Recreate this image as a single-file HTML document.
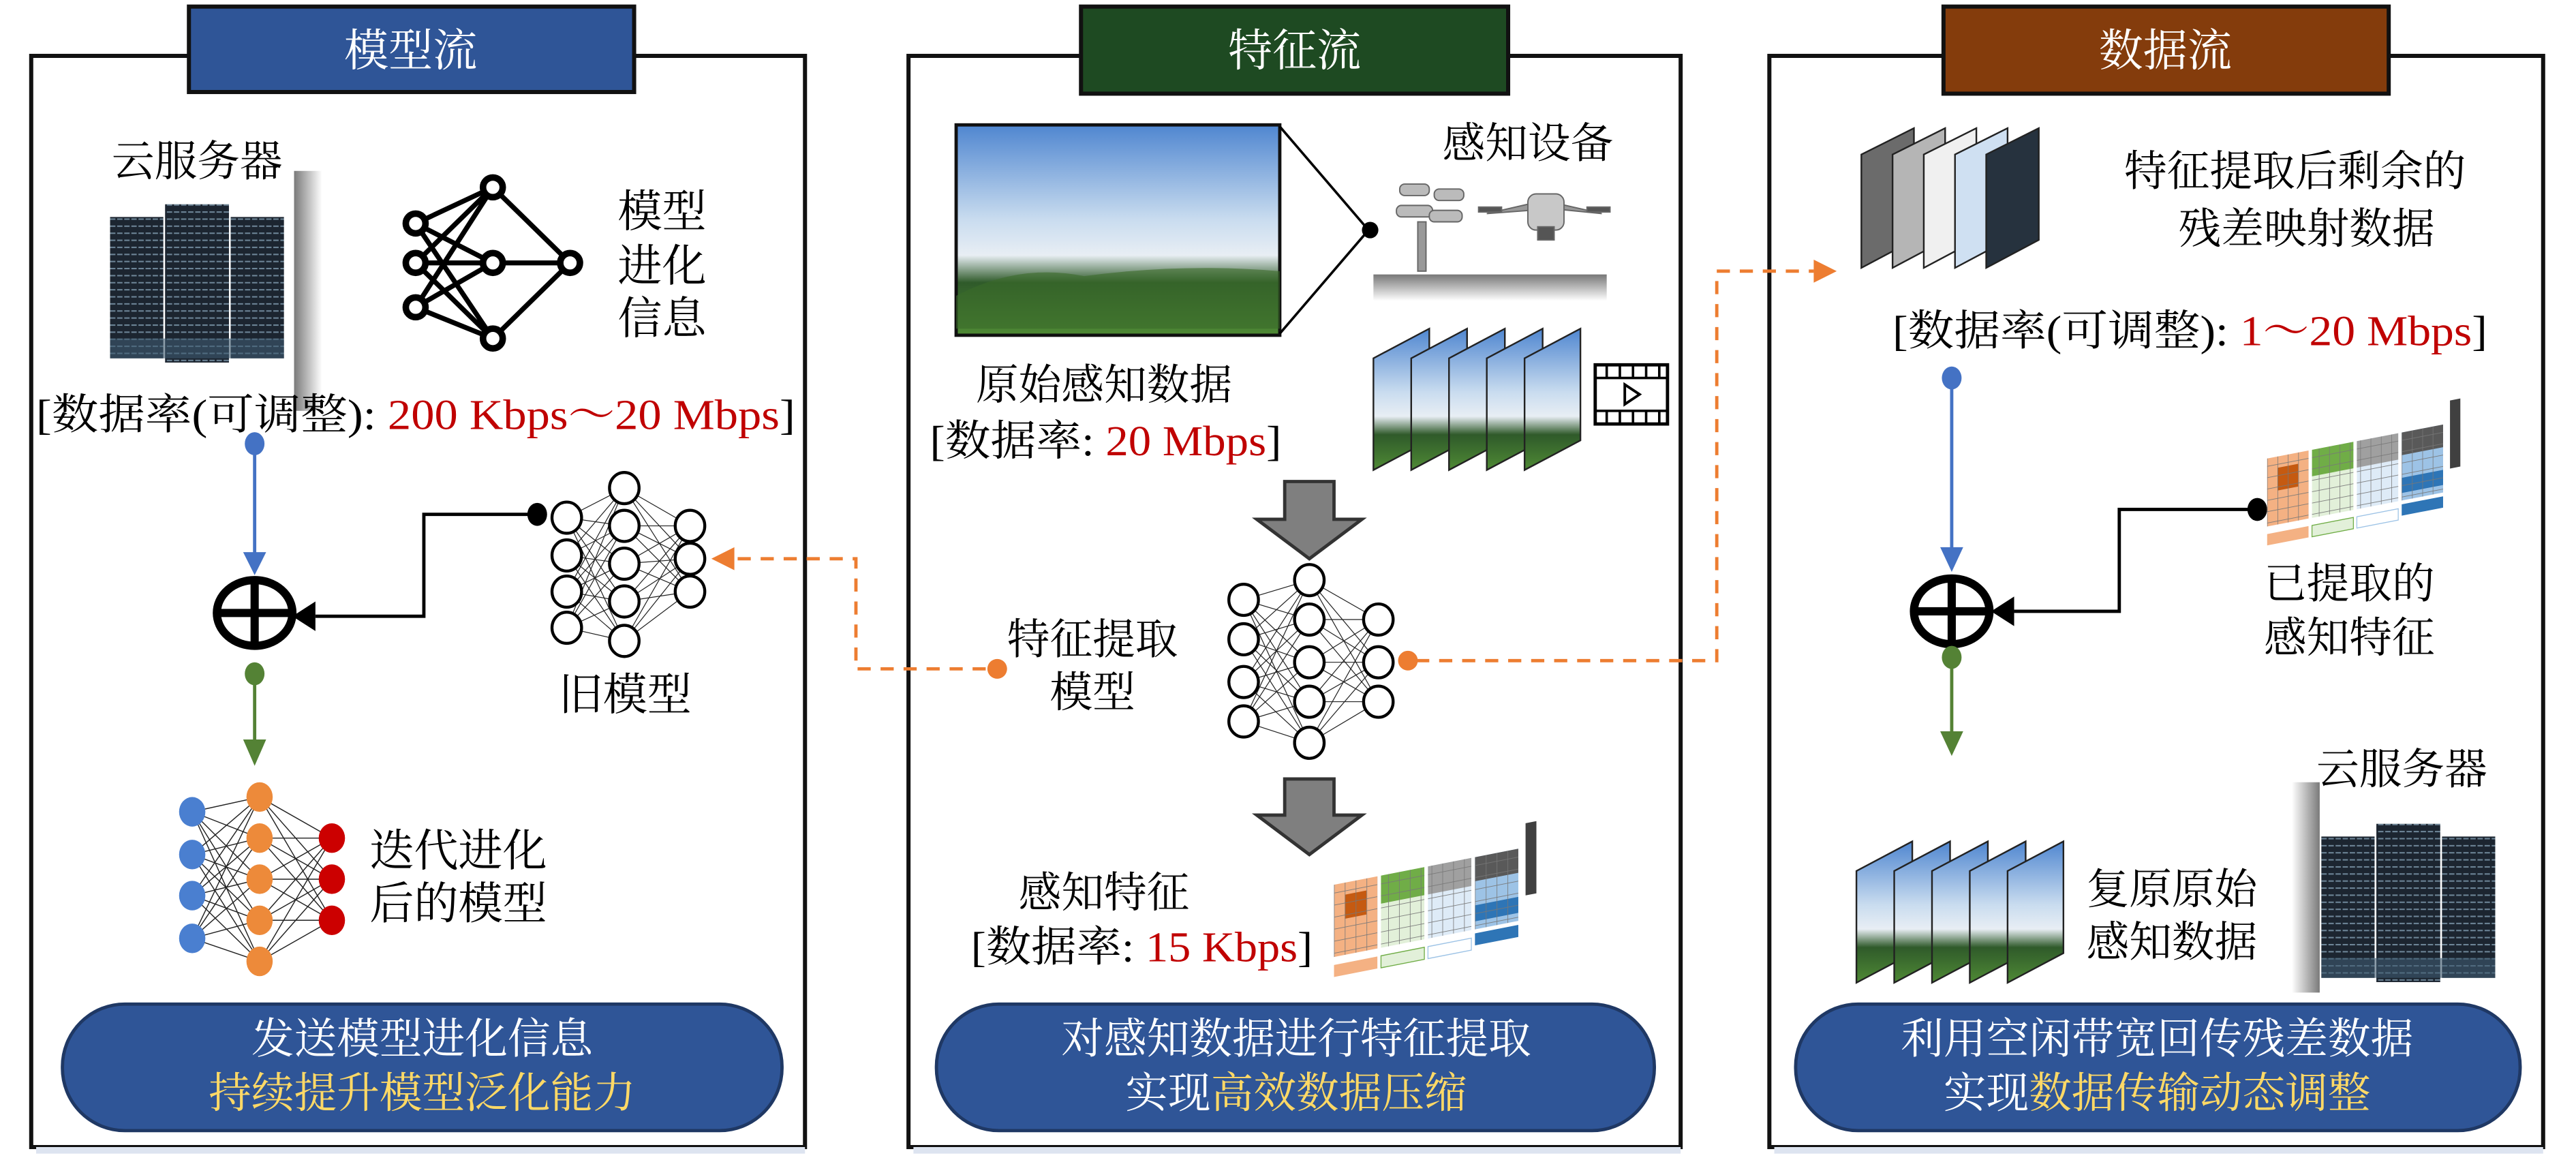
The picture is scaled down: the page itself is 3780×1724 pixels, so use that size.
<!DOCTYPE html>
<html><head><meta charset="utf-8"><style>
html,body{margin:0;padding:0;background:#fff}
svg{display:block}
text{font-family:"Liberation Serif","Noto Serif CJK SC",serif;}
</style></head><body>
<svg width="3780" height="1724" viewBox="0 0 1568 715" preserveAspectRatio="none" xmlns="http://www.w3.org/2000/svg">
<defs>
<linearGradient id="sky" x1="0" y1="0" x2="0" y2="1">
<stop offset="0" stop-color="#4f86d0"/><stop offset="0.45" stop-color="#c9dcef"/><stop offset="0.62" stop-color="#e8eef4"/><stop offset="0.75" stop-color="#2f5a2a"/><stop offset="1" stop-color="#4f8a35"/></linearGradient>
<linearGradient id="bar" x1="0" y1="0" x2="1" y2="0">
<stop offset="0" stop-color="#7a7a7a"/><stop offset="1" stop-color="#ffffff"/></linearGradient>
<linearGradient id="hbar" x1="0" y1="0" x2="0" y2="1">
<stop offset="0" stop-color="#777"/><stop offset="1" stop-color="#fff"/></linearGradient>
<pattern id="srv" width="4" height="5" patternUnits="userSpaceOnUse"><rect width="4" height="5" fill="#1c2530"/><rect width="3" height="1" fill="#6d8597"/></pattern>
<pattern id="grid" width="6" height="6" patternUnits="userSpaceOnUse"><path d="M0 0H6M0 0V6" stroke="#777" stroke-width="0.6" fill="none"/></pattern>
<g id="server">
<rect x="0" y="14" width="30" height="100" fill="url(#srv)"/>
<rect x="31" y="5" width="36" height="112" fill="url(#srv)"/>
<rect x="68" y="14" width="30" height="100" fill="url(#srv)"/>
<rect x="0" y="100" width="98" height="14" fill="#3d5a70" opacity="0.6"/>
</g>
<g id="frame">
<polygon points="0,22 34,4 34,72 0,90" fill="url(#sky)" stroke="#222" stroke-width="1"/>
</g>
<g id="fmat">
<g transform="skewY(-10)">
<rect x="0" y="20" width="24" height="36" fill="#f4b183"/><rect x="6" y="26" width="12" height="12" fill="#c55a11"/><rect x="0" y="20" width="24" height="36" fill="url(#grid)"/>
<rect x="26" y="20" width="24" height="36" fill="#e2f0d9"/><rect x="26" y="20" width="24" height="14" fill="#70ad47"/><rect x="26" y="20" width="24" height="36" fill="url(#grid)"/>
<rect x="52" y="20" width="24" height="36" fill="#deebf7"/><rect x="52" y="20" width="24" height="14" fill="#a0a0a0"/><rect x="52" y="20" width="24" height="36" fill="url(#grid)"/>
<rect x="78" y="20" width="24" height="36" fill="#9dc3e6"/><rect x="78" y="20" width="24" height="12" fill="#595959"/><rect x="78" y="44" width="24" height="8" fill="#2e75b6"/><rect x="78" y="20" width="24" height="36" fill="url(#grid)"/>
<rect x="106" y="8" width="6" height="36" fill="#404040"/>
<rect x="0" y="60" width="24" height="6" fill="#f4b183"/><rect x="26" y="60" width="24" height="6" fill="#e2f0d9" stroke="#70ad47" stroke-width="0.5"/><rect x="52" y="60" width="24" height="6" fill="#fff" stroke="#9dc3e6" stroke-width="0.5"/><rect x="78" y="58" width="24" height="6" fill="#2e75b6"/>
</g></g>
</defs>

<rect x="19" y="34" width="471" height="664" fill="#fff" stroke="#111" stroke-width="2.5"/>
<rect x="553" y="34" width="470" height="664" fill="#fff" stroke="#111" stroke-width="2.5"/>
<rect x="1077" y="34" width="471" height="664" fill="#fff" stroke="#111" stroke-width="2.5"/>
<rect x="22" y="698" width="468" height="4" fill="#dde4f0"/>
<rect x="556" y="698" width="467" height="4" fill="#dde4f0"/>
<rect x="1080" y="698" width="468" height="4" fill="#dde4f0"/>

<rect x="115" y="4" width="271" height="52" fill="#2f5597" stroke="#111" stroke-width="2.5"/>
<text x="250" y="40" font-size="27" fill="#fff" text-anchor="middle">模型流</text>
<rect x="658" y="4" width="260" height="53" fill="#1e4a22" stroke="#111" stroke-width="2.5"/>
<text x="788" y="40" font-size="27" fill="#fff" text-anchor="middle">特征流</text>
<rect x="1183" y="4" width="271" height="53" fill="#843c0c" stroke="#111" stroke-width="2.5"/>
<text x="1318" y="40" font-size="27" fill="#fff" text-anchor="middle">数据流</text>

<!-- LEFT -->
<text x="68" y="107" font-size="26">云服务器</text>
<rect x="179" y="104" width="17" height="146" fill="url(#bar)"/>
<use href="#server" transform="translate(67,120) scale(1.08,0.86)"/>
<g stroke="#000" stroke-width="3" fill="none">
<path d="M253 136L300 114M253 136L300 160M253 136L300 206M253 160L300 114M253 160L300 160M253 160L300 206M253 187L300 114M253 187L300 160M253 187L300 206M300 114L347 160M300 160L347 160M300 206L347 160"/>
</g>
<g fill="#fff" stroke="#000" stroke-width="4">
<circle cx="253" cy="136" r="6"/><circle cx="253" cy="160" r="6"/><circle cx="253" cy="187" r="6"/>
<circle cx="300" cy="114" r="6"/><circle cx="300" cy="160" r="6"/><circle cx="300" cy="206" r="6"/><circle cx="347" cy="160" r="6"/>
</g>
<text x="376" y="138" font-size="27">模型</text>
<text x="376" y="171" font-size="27">进化</text>
<text x="376" y="203" font-size="27">信息</text>
<text x="22" y="261" font-size="26" textLength="462" lengthAdjust="spacingAndGlyphs">[数据率(可调整): <tspan fill="#c00000">200 Kbps～20 Mbps</tspan>]</text>
<ellipse cx="155" cy="270" rx="6" ry="7" fill="#4472c4"/>
<line x1="155" y1="276" x2="155" y2="338" stroke="#4472c4" stroke-width="2"/>
<path d="M148 336L162 336L155 350z" fill="#4472c4"/>
<ellipse cx="155" cy="373" rx="23" ry="20" fill="none" stroke="#000" stroke-width="5"/>
<path d="M155 353V393M132 373H178" stroke="#000" stroke-width="5"/>
<path d="M326 313H258V375H192" stroke="#000" stroke-width="2" fill="none"/>
<path d="M178 375L192 366L192 384z" fill="#000"/>
<ellipse cx="327" cy="313" rx="6" ry="7" fill="#000"/>
<g stroke="#222" stroke-width="0.5">
<path d="M345 315L380 297M345 315L380 320M345 315L380 343M345 315L380 366M345 315L380 390M345 338L380 297M345 338L380 320M345 338L380 343M345 338L380 366M345 338L380 390M345 360L380 297M345 360L380 320M345 360L380 343M345 360L380 366M345 360L380 390M345 382L380 297M345 382L380 320M345 382L380 343M345 382L380 366M345 382L380 390M380 297L420 320M380 297L420 340M380 297L420 360M380 320L420 320M380 320L420 340M380 320L420 360M380 343L420 320M380 343L420 340M380 343L420 360M380 366L420 320M380 366L420 340M380 366L420 360M380 390L420 320M380 390L420 340M380 390L420 360"/>
</g>
<g fill="#fff" stroke="#000" stroke-width="1.8">
<ellipse cx="345" cy="315" rx="9" ry="9.5"/><ellipse cx="345" cy="338" rx="9" ry="9.5"/><ellipse cx="345" cy="360" rx="9" ry="9.5"/><ellipse cx="345" cy="382" rx="9" ry="9.5"/>
<ellipse cx="380" cy="297" rx="9" ry="9.5"/><ellipse cx="380" cy="320" rx="9" ry="9.5"/><ellipse cx="380" cy="343" rx="9" ry="9.5"/><ellipse cx="380" cy="366" rx="9" ry="9.5"/><ellipse cx="380" cy="390" rx="9" ry="9.5"/>
<ellipse cx="420" cy="320" rx="9" ry="9.5"/><ellipse cx="420" cy="340" rx="9" ry="9.5"/><ellipse cx="420" cy="360" rx="9" ry="9.5"/>
</g>
<text x="340" y="432" font-size="27">旧模型</text>
<ellipse cx="155" cy="410" rx="6" ry="7" fill="#548235"/>
<line x1="155" y1="416" x2="155" y2="452" stroke="#548235" stroke-width="2"/>
<path d="M148 450L162 450L155 466z" fill="#548235"/>
<g stroke="#222" stroke-width="0.6">
<path d="M117 494L158 485M117 494L158 510M117 494L158 535M117 494L158 560M117 494L158 585M117 520L158 485M117 520L158 510M117 520L158 535M117 520L158 560M117 520L158 585M117 545L158 485M117 545L158 510M117 545L158 535M117 545L158 560M117 545L158 585M117 571L158 485M117 571L158 510M117 571L158 535M117 571L158 560M117 571L158 585M158 485L202 510M158 485L202 535M158 485L202 560M158 510L202 510M158 510L202 535M158 510L202 560M158 535L202 510M158 535L202 535M158 535L202 560M158 560L202 510M158 560L202 535M158 560L202 560M158 585L202 510M158 585L202 535M158 585L202 560"/>
</g>
<g fill="#4a7fd0"><ellipse cx="117" cy="494" rx="8" ry="9"/><ellipse cx="117" cy="520" rx="8" ry="9"/><ellipse cx="117" cy="545" rx="8" ry="9"/><ellipse cx="117" cy="571" rx="8" ry="9"/></g>
<g fill="#ed8a3a"><ellipse cx="158" cy="485" rx="8" ry="9"/><ellipse cx="158" cy="510" rx="8" ry="9"/><ellipse cx="158" cy="535" rx="8" ry="9"/><ellipse cx="158" cy="560" rx="8" ry="9"/><ellipse cx="158" cy="585" rx="8" ry="9"/></g>
<g fill="#cc0000"><ellipse cx="202" cy="510" rx="8" ry="9"/><ellipse cx="202" cy="535" rx="8" ry="9"/><ellipse cx="202" cy="560" rx="8" ry="9"/></g>
<text x="225" y="527" font-size="27">迭代进化</text>
<text x="225" y="559" font-size="27">后的模型</text>
<rect x="38" y="611" width="438" height="77" rx="38" fill="#2f5597" stroke="#1f3864" stroke-width="2"/>
<text x="257" y="641" font-size="26" fill="#fff" text-anchor="middle">发送模型进化信息</text>
<text x="257" y="674" font-size="26" fill="#ffd966" text-anchor="middle">持续提升模型泛化能力</text>

<!-- MIDDLE -->
<rect x="582" y="76" width="197" height="128" fill="url(#sky)" stroke="#111" stroke-width="2"/>
<path d="M582 180Q620 160 660 168Q720 160 779 165V200H582z" fill="#3b6b2a" opacity="0.6"/>
<path d="M779 77L833 140L779 203" stroke="#000" stroke-width="1.5" fill="none"/>
<circle cx="834" cy="140" r="5" fill="#000"/>
<text x="878" y="96" font-size="26">感知设备</text>
<g fill="#bbb" stroke="#666" stroke-width="0.8">
<rect x="852" y="112" width="18" height="7" rx="3"/><rect x="873" y="115" width="18" height="7" rx="3"/><rect x="850" y="125" width="22" height="7" rx="3"/><rect x="870" y="128" width="20" height="7" rx="3"/>
<rect x="863" y="135" width="5" height="30" fill="#999"/>
<path d="M905 130L940 122L975 130L945 127z" fill="#999"/>
<rect x="930" y="118" width="22" height="22" rx="5" fill="#c8c8c8"/>
<rect x="936" y="138" width="10" height="8" fill="#555"/>
<rect x="900" y="126" width="14" height="3" fill="#555"/><rect x="966" y="126" width="14" height="3" fill="#555"/>
</g>
<rect x="836" y="167" width="142" height="16" fill="url(#hbar)"/>
<use href="#frame" x="836" y="196"/><use href="#frame" x="859" y="196"/><use href="#frame" x="882" y="196"/><use href="#frame" x="905" y="196"/><use href="#frame" x="928" y="196"/>
<rect x="971" y="222" width="44" height="36" fill="#fff" stroke="#000" stroke-width="2"/>
<path d="M971 230H1015M971 250H1015M978 222V230M986 222V230M994 222V230M1002 222V230M1010 222V230M978 250V258M986 250V258M994 250V258M1002 250V258M1010 250V258" stroke="#000" stroke-width="1.5"/>
<path d="M989 234L998 240L989 246z" fill="none" stroke="#000" stroke-width="1.6"/>
<text x="672" y="243" font-size="26" text-anchor="middle">原始感知数据</text>
<text x="566" y="277" font-size="26" textLength="214" lengthAdjust="spacingAndGlyphs">[数据率: <tspan fill="#c00000">20 Mbps</tspan>]</text>
<path d="M782 293H812V316H829L797 340L765 316H782z" fill="#7f7f7f" stroke="#333" stroke-width="2"/>
<g stroke="#222" stroke-width="0.5">
<path d="M757 365L797 353M757 365L797 377M757 365L797 403M757 365L797 427M757 365L797 452M757 389L797 353M757 389L797 377M757 389L797 403M757 389L797 427M757 389L797 452M757 415L797 353M757 415L797 377M757 415L797 403M757 415L797 427M757 415L797 452M757 439L797 353M757 439L797 377M757 439L797 403M757 439L797 427M757 439L797 452M797 353L839 377M797 353L839 403M797 353L839 427M797 377L839 377M797 377L839 403M797 377L839 427M797 403L839 377M797 403L839 403M797 403L839 427M797 427L839 377M797 427L839 403M797 427L839 427M797 452L839 377M797 452L839 403M797 452L839 427"/>
</g>
<g fill="#fff" stroke="#000" stroke-width="1.8">
<ellipse cx="757" cy="365" rx="9" ry="9.5"/><ellipse cx="757" cy="389" rx="9" ry="9.5"/><ellipse cx="757" cy="415" rx="9" ry="9.5"/><ellipse cx="757" cy="439" rx="9" ry="9.5"/>
<ellipse cx="797" cy="353" rx="9" ry="9.5"/><ellipse cx="797" cy="377" rx="9" ry="9.5"/><ellipse cx="797" cy="403" rx="9" ry="9.5"/><ellipse cx="797" cy="427" rx="9" ry="9.5"/><ellipse cx="797" cy="452" rx="9" ry="9.5"/>
<ellipse cx="839" cy="377" rx="9" ry="9.5"/><ellipse cx="839" cy="403" rx="9" ry="9.5"/><ellipse cx="839" cy="427" rx="9" ry="9.5"/>
</g>
<text x="665" y="398" font-size="26" text-anchor="middle">特征提取</text>
<text x="665" y="430" font-size="26" text-anchor="middle">模型</text>
<path d="M600 407H521V340H445" stroke="#ed7d31" stroke-width="2" stroke-dasharray="8 6" fill="none"/>
<path d="M433 340L447 333L447 347z" fill="#ed7d31"/>
<circle cx="607" cy="407" r="6" fill="#ed7d31"/>
<path d="M862 402H1045V165H1104" stroke="#ed7d31" stroke-width="2" stroke-dasharray="8 6" fill="none"/>
<path d="M1118 165L1104 158L1104 172z" fill="#ed7d31"/>
<circle cx="857" cy="402" r="6" fill="#ed7d31"/>
<path d="M782 474H812V496H829L797 520L765 496H782z" fill="#7f7f7f" stroke="#333" stroke-width="2"/>
<text x="672" y="552" font-size="26" text-anchor="middle">感知特征</text>
<text x="591" y="585" font-size="26" textLength="208" lengthAdjust="spacingAndGlyphs">[数据率: <tspan fill="#c00000">15 Kbps</tspan>]</text>
<use href="#fmat" transform="translate(812,514) scale(1.1,1.22)"/>
<rect x="570" y="611" width="437" height="77" rx="38" fill="#2f5597" stroke="#1f3864" stroke-width="2"/>
<text x="789" y="641" font-size="26" fill="#fff" text-anchor="middle">对感知数据进行特征提取</text>
<text x="789" y="674" font-size="26" fill="#fff" text-anchor="middle">实现<tspan fill="#ffd966">高效数据压缩</tspan></text>

<!-- RIGHT -->
<g>
<polygon points="1133,94 1165,78 1165,146 1133,163" fill="#6b6b6b" stroke="#222"/>
<polygon points="1152,94 1184,78 1184,146 1152,163" fill="#b5b5b5" stroke="#222"/>
<polygon points="1171,94 1203,78 1203,146 1171,163" fill="#f0f0f0" stroke="#222"/>
<polygon points="1190,94 1222,78 1222,146 1190,163" fill="#cfe0f2" stroke="#222"/>
<polygon points="1209,94 1241,78 1241,146 1209,163" fill="#26323e" stroke="#222"/>
</g>
<text x="1293" y="113" font-size="26">特征提取后剩余的</text>
<text x="1404" y="148" font-size="26" text-anchor="middle">残差映射数据</text>
<text x="1152" y="210" font-size="26" textLength="362" lengthAdjust="spacingAndGlyphs">[数据率(可调整): <tspan fill="#c00000">1～20 Mbps</tspan>]</text>
<ellipse cx="1188" cy="230" rx="6" ry="7" fill="#4472c4"/>
<line x1="1188" y1="236" x2="1188" y2="335" stroke="#4472c4" stroke-width="2"/>
<path d="M1181 333L1195 333L1188 348z" fill="#4472c4"/>
<ellipse cx="1188" cy="372" rx="23" ry="20" fill="none" stroke="#000" stroke-width="5"/>
<path d="M1188 352V392M1165 372H1211" stroke="#000" stroke-width="5"/>
<path d="M1372 310H1290V372H1226" stroke="#000" stroke-width="2" fill="none"/>
<path d="M1212 372L1226 363L1226 381z" fill="#000"/>
<ellipse cx="1374" cy="310" rx="6" ry="7" fill="#000"/>
<use href="#fmat" transform="translate(1380,256) scale(1.05,1.15)"/>
<text x="1378" y="364" font-size="26">已提取的</text>
<text x="1378" y="397" font-size="26">感知特征</text>
<ellipse cx="1188" cy="400" rx="6" ry="7" fill="#548235"/>
<line x1="1188" y1="406" x2="1188" y2="447" stroke="#548235" stroke-width="2"/>
<path d="M1181 445L1195 445L1188 460z" fill="#548235"/>
<use href="#frame" x="1130" y="508"/><use href="#frame" x="1153" y="508"/><use href="#frame" x="1176" y="508"/><use href="#frame" x="1199" y="508"/><use href="#frame" x="1222" y="508"/>
<text x="1270" y="550" font-size="26">复原原始</text>
<text x="1270" y="582" font-size="26">感知数据</text>
<text x="1410" y="477" font-size="26">云服务器</text>
<rect x="1395" y="476" width="17" height="128" fill="url(#bar)" transform="translate(2807,0) scale(-1,1)"/>
<use href="#server" transform="translate(1413,497) scale(1.08,0.86)"/>
<rect x="1093" y="611" width="441" height="77" rx="38" fill="#2f5597" stroke="#1f3864" stroke-width="2"/>
<text x="1313" y="641" font-size="26" fill="#fff" text-anchor="middle">利用空闲带宽回传残差数据</text>
<text x="1313" y="674" font-size="26" fill="#fff" text-anchor="middle">实现<tspan fill="#ffd966">数据传输动态调整</tspan></text>
</svg>
</body></html>
